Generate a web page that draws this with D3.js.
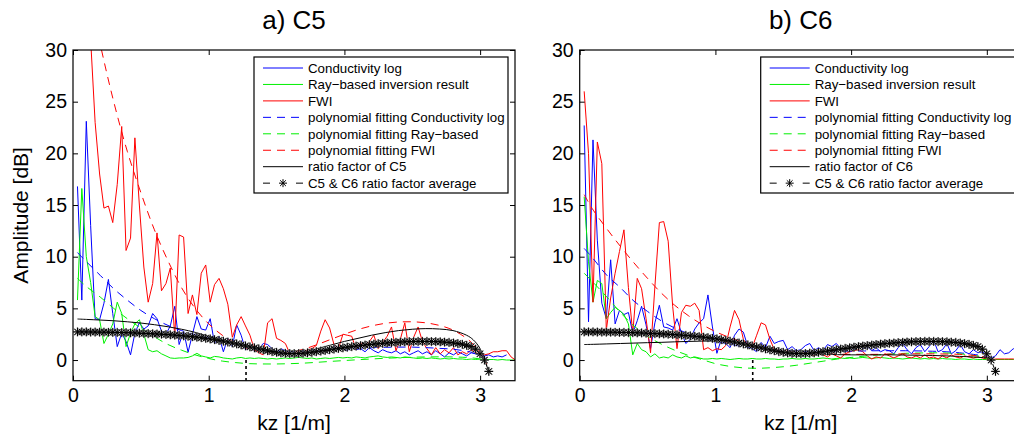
<!DOCTYPE html>
<html><head><meta charset="utf-8">
<script src="https://cdn.jsdelivr.net/npm/d3@7"></script>
<style>body{margin:0;background:#fff;} svg{display:block;font-family:"Liberation Sans",Arial,Helvetica,sans-serif;}</style>
</head><body><svg id="c" width="1014" height="439"></svg>
<script>
// ---------- data ----------
const kz = [0.033,0.065,0.098,0.130,0.163,0.196,0.228,0.261,0.293,0.326,
0.359,0.391,0.424,0.456,0.489,0.522,0.554,0.587,0.619,0.652,
0.685,0.717,0.750,0.782,0.815,0.848,0.880,0.913,0.945,0.978,
1.011,1.043,1.076,1.108,1.141,1.174,1.206,1.239,1.271,1.304,
1.337,1.369,1.402,1.434,1.467,1.500,1.532,1.565,1.597,1.630,
1.663,1.695,1.728,1.760,1.793,1.826,1.858,1.891,1.923,1.956,
1.989,2.021,2.054,2.086,2.119,2.152,2.184,2.217,2.249,2.282,
2.315,2.347,2.380,2.412,2.445,2.478,2.510,2.543,2.575,2.608,
2.641,2.673,2.706,2.738,2.771,2.804,2.836,2.869,2.901,2.934,
2.967,2.999,3.032,3.064,3.097,3.130,3.162,3.195,3.228,3.260];

const condC5 = [16.8,5.8,23.1,13.0,4.0,3.9,5.5,7.8,4.5,1.3,
2.6,1.8,0.5,2.6,3.6,3.0,3.3,4.5,4.0,2.8,
2.5,3.3,5.2,1.5,2.8,0.75,2.5,4.2,3.0,2.9,
4.0,1.6,2.3,0.8,2.1,1.3,3.4,2.4,1.0,1.3,
0.9,1.1,1.6,1.5,1.1,0.65,1.1,0.9,0.6,0.8,
0.7,0.9,0.7,1.0,0.95,0.8,1.1,0.9,1.3,1.1,
1.2,0.9,1.25,1.0,1.1,0.8,1.2,0.9,0.7,1.0,
0.8,0.7,0.9,0.6,0.8,0.5,0.7,0.9,0.6,0.8,
0.5,0.9,0.6,0.3,0.7,0.5,0.8,0.6,0.4,0.7,
0.6,0.5,0.4,0.5,0.3,0.4,0.3,0.5];

const rayC5 = [5.8,16.6,10.0,7.5,4.2,3.9,1.6,2.5,3.5,5.6,
4.5,1.3,2.6,3.5,3.9,2.5,1.0,0.8,0.9,0.6,
0.4,0.2,0.16,0.2,0.2,0.25,0.4,0.65,0.4,0.3,
0.2,0.35,0.3,0.2,0.15,0.1,0.2,0.25,0.15,0.2,
0.15,0.2,0.15,0.1,0.15,0.1,0.15,0.2,0.15,0.2,
0.25,0.2,0.15,0.2,0.1,0.15,0.2,0.15,0.2,0.25,
0.2,0.25,0.2,0.3,0.25,0.2,0.3,0.35,0.4,0.3,
0.25,0.3,0.25,0.2,0.3,0.25,0.2,0.15,0.2,0.15,
0.2,0.15,0.1,0.15,0.1,0.15,0.1,0.1,0.05,0.1,
0.05,0.1,0.05,0.05,0.05,0.0,0.05,0.0,0.0,0.0];

const fwiC5 = [60,45,36,31,23,18,14.7,14.9,13.3,17,
22.6,10.6,11.8,21.5,15,9.0,5.6,7.4,12.3,6.7,
7.4,8.9,2.2,12.1,11.9,4.5,6.3,4.4,8.4,9.2,
5.6,7.3,7.9,6.9,5.4,2.2,3.4,4.2,3.3,2.4,
1.0,0.7,0.5,3.6,4.0,2.1,1.9,1.6,0.65,0.5,
0.9,0.7,1.0,1.1,1.4,2.8,3.9,3.1,1.5,1.1,
2.5,2.4,2.3,1.0,1.7,1.3,1.8,2.4,1.1,1.7,
2.3,3.2,0.9,2.0,3.6,0.8,2.2,3.2,1.8,1.1,
0.5,1.2,0.6,1.0,0.7,1.2,0.5,0.8,0.6,1.0,
0.7,0.6,0.5,0.6,0.8,0.8,0.9,0.9,0.3,0.0];

const condC6 = [22.7,3.7,21.3,11.6,5.5,4.0,9.7,3.5,4.8,4.4,
4.6,2.6,3.8,5.2,3.4,1.1,3.6,5.3,3.2,3.1,
2.9,4.0,2.6,1.6,2.0,3.0,3.6,4.0,6.3,3.2,
0.65,2.0,1.6,1.2,2.4,3.0,2.7,1.3,1.1,0.8,
1.7,1.2,2.3,1.6,1.8,1.9,1.0,1.3,0.9,1.0,
1.4,1.6,0.9,1.2,0.9,1.5,1.3,1.6,1.1,0.9,
1.3,1.0,1.5,1.1,1.3,0.9,1.2,0.8,1.0,0.9,
0.6,1.2,1.6,1.0,0.6,1.2,1.5,0.8,1.3,1.9,
0.8,1.0,1.6,0.6,0.9,1.5,0.8,0.6,1.0,0.7,
0.8,0.5,0.2,0.4,1.0,0.6,0.7,1.1,0.8,0.5];

const rayC6 = [15.8,9.5,5.6,7.7,7.4,4.0,4.6,5.1,4.8,4.4,
3.5,0.5,1.6,1.0,0.8,0.3,0.6,0.2,0.3,0.2,
0.5,0.3,0.2,0.4,0.2,0.3,0.2,0.1,0.1,0.15,
0.1,0.15,0.1,0.05,0.1,0.15,0.1,0.1,0.15,0.1,
0.1,0.15,0.1,0.1,0.05,0.1,0.1,0.15,0.1,0.1,
0.15,0.1,0.1,0.15,0.2,0.15,0.1,0.15,0.2,0.15,
0.2,0.15,0.2,0.25,0.2,0.15,0.2,0.25,0.2,0.15,
0.2,0.15,0.1,0.15,0.2,0.15,0.1,0.15,0.1,0.15,
0.1,0.15,0.1,0.1,0.05,0.1,0.1,0.05,0.1,0.05,
0.05,0.05,0.0,0.05,0.05,0.05,0.05,0.05,0.05,0.05];

const fwiC6 = [26.0,20.0,5.6,21.1,19.0,2.9,6.0,8.4,10.5,12.6,
7.0,2.6,7.9,6.9,4.0,0.7,7.1,13.3,13.4,11.5,
5.2,1.1,4.6,5.3,5.2,5.5,4.8,1.0,1.2,0.9,
1.1,1.0,1.4,3.2,4.8,3.9,2.0,1.3,1.2,2.4,
3.6,3.4,2.0,1.0,0.7,0.65,0.9,0.6,0.8,0.5,
0.9,0.6,0.4,0.7,0.5,0.3,0.6,0.4,0.2,0.6,
0.8,0.9,1.0,0.8,0.4,0.1,0.3,0.2,0.6,0.4,
0.2,0.4,0.6,0.3,0.2,0.4,0.2,0.5,0.2,0.3,
0.1,0.4,0.2,0.5,0.3,0.2,0.4,0.3,0.2,0.3,
0.2,0.1,0.0,0.1,0.1,0.1,0.1,0.1,0.1,0.1];

const fitKz = [0.033,0.1,0.2,0.3,0.4,0.5,0.6,0.7,0.8,0.9,1.0,1.1,1.2,1.3,1.4,1.5,1.6,1.7,1.8,1.9,2.0,2.1,2.2,2.3,2.4,2.5,2.6,2.7,2.8,2.9,2.95,3.0,3.05];
const fitCondC5 = [10.4,9.5,8.2,6.9,5.8,4.8,4.0,3.35,2.85,2.45,2.15,1.85,1.55,1.25,1.0,0.85,0.8,0.82,0.9,1.0,1.08,1.15,1.2,1.23,1.25,1.25,1.2,1.13,1.05,0.85,0.7,0.45,0.1];
const fitRayC5 = [7.9,7.1,6.1,5.0,4.0,3.1,2.25,1.5,0.95,0.5,0.15,-0.1,-0.25,-0.35,-0.38,-0.38,-0.35,-0.3,-0.22,-0.13,-0.05,0.03,0.1,0.17,0.22,0.27,0.3,0.31,0.3,0.25,0.2,0.1,0.0];
const fitFwiC5 = [42,37,30.6,25,20.2,16.2,12.6,9.6,7.0,5.0,3.5,2.4,1.6,1.05,0.75,0.65,0.75,1.05,1.5,2.0,2.5,2.95,3.3,3.55,3.68,3.7,3.6,3.35,2.9,2.1,1.5,0.7,-0.4];
const fitCondC6 = [10.8,9.8,8.2,7.0,5.7,4.7,3.8,3.1,2.55,2.1,1.8,1.55,1.3,1.15,1.0,0.92,0.85,0.82,0.8,0.82,0.85,0.88,0.9,0.9,0.9,0.88,0.85,0.8,0.7,0.55,0.45,0.3,0.05];
const fitRayC6 = [8.4,7.5,6.1,4.6,3.3,2.3,1.55,0.95,0.45,0.05,-0.35,-0.6,-0.75,-0.8,-0.75,-0.65,-0.5,-0.3,-0.1,0.1,0.25,0.38,0.5,0.58,0.65,0.68,0.7,0.68,0.6,0.45,0.35,0.15,0.0];
const fitFwiC6 = [16.0,14.5,12.7,11.0,9.4,7.9,6.5,5.3,4.3,3.45,2.75,2.2,1.75,1.4,1.1,0.9,0.75,0.65,0.6,0.57,0.55,0.55,0.55,0.58,0.6,0.6,0.6,0.58,0.55,0.45,0.38,0.25,0.05];
const ratioC5 = [3.97,3.93,3.87,3.8,3.7,3.58,3.42,3.22,2.98,2.68,2.3,1.95,1.55,1.15,0.8,0.6,0.58,0.75,1.1,1.45,1.8,2.1,2.4,2.65,2.85,2.98,3.04,3.0,2.85,2.4,1.95,1.1,-0.6];
const ratioC6 = [1.5,1.52,1.56,1.6,1.64,1.68,1.71,1.76,1.8,1.83,1.84,1.78,1.55,1.25,1.0,0.82,0.7,0.62,0.56,0.52,0.5,0.5,0.5,0.5,0.48,0.46,0.44,0.4,0.35,0.3,0.25,0.2,0.0];

const ratioAvg = [2.72,2.72,2.72,2.71,2.71,2.7,2.7,2.69,2.68,2.67,
2.66,2.65,2.63,2.62,2.6,2.58,2.56,2.54,2.52,2.5,
2.47,2.44,2.41,2.38,2.34,2.3,2.26,2.21,2.16,2.1,
2.04,1.97,1.9,1.82,1.74,1.65,1.56,1.46,1.37,1.27,
1.18,1.08,0.99,0.9,0.82,0.75,0.69,0.65,0.63,0.62,
0.63,0.66,0.7,0.75,0.81,0.87,0.93,1.0,1.06,1.12,
1.18,1.24,1.3,1.35,1.4,1.45,1.5,1.54,1.58,1.62,
1.65,1.68,1.71,1.74,1.76,1.78,1.79,1.8,1.8,1.8,
1.79,1.78,1.76,1.73,1.7,1.65,1.59,1.52,1.42,1.3,
1.05,0.6,0.0,-1.1];

const cutKz = 1.275;
const xDomain = [0, 3.257];
const yDomain = [-2, 30];
const xTicks = [0, 1, 2, 3];
const yTicks = [0, 5, 10, 15, 20, 25, 30];
const titles = ["a) C5", "b) C6"];
const xLabel = "kz [1/m]";
const yLabel = "Amplitude [dB]";
const legendC5 = ["Conductivity log","Ray\u2212based inversion result","FWI","polynomial fitting Conductivity log","polynomial fitting Ray\u2212based","polynomial fitting FWI","ratio factor of C5","C5 & C6 ratio factor average"];
const legendC6 = ["Conductivity log","Ray\u2212based inversion result","FWI","polynomial fitting Conductivity log","polynomial fitting Ray\u2212based","polynomial fitting FWI","ratio factor of C6","C5 & C6 ratio factor average"];

// ---------- drawing ----------
const svg = d3.select("#c");
const defs = svg.append("defs");
const W = 442, H = 330.7, TOP = 50;
const BLUE = "#0000ff", GREEN = "#00f000", RED = "#ff0000";
const DASH = "8,6";

function asteriskPath(s) {
  const a = s * 0.72;
  return `M${-s},0H${s}M0,${-s}V${s}M${-a},${-a}L${a},${a}M${-a},${a}L${a},${-a}`;
}

function panel(left, idx, d) {
  const g = svg.append("g").attr("transform", `translate(${left},${TOP})`);
  const x = d3.scaleLinear().domain(xDomain).range([0, W]);
  const y = d3.scaleLinear().domain(yDomain).range([H, 0]);
  const cid = "clip" + idx;
  defs.append("clipPath").attr("id", cid).append("rect").attr("width", W).attr("height", H);
  const plot = g.append("g").attr("clip-path", `url(#${cid})`);

  const rawLine = d3.line().x((v, i) => x(kz[i])).y(v => y(v));
  const fitLine = d3.line().x((v, i) => x(fitKz[i])).y(v => y(v)).curve(d3.curveCatmullRom.alpha(0.5));

  // divider
  plot.append("line").attr("x1", x(cutKz)).attr("x2", x(cutKz)).attr("y1", y(0)).attr("y2", y(-2))
    .attr("stroke", "#000").attr("stroke-width", 1.6).attr("stroke-dasharray", "3,3");

  const raw = [[d.cond, BLUE], [d.ray, GREEN], [d.fwi, RED]];
  raw.forEach(([arr, c]) => plot.append("path").attr("d", rawLine(arr)).attr("fill", "none")
    .attr("stroke", c).attr("stroke-width", 1).attr("stroke-linejoin", "round"));
  const fits = [[d.fCond, BLUE], [d.fRay, GREEN], [d.fFwi, RED]];
  fits.forEach(([arr, c]) => plot.append("path").attr("d", fitLine(arr)).attr("fill", "none")
    .attr("stroke", c).attr("stroke-width", 1).attr("stroke-dasharray", DASH));
  plot.append("path").attr("d", fitLine(d.ratio)).attr("fill", "none").attr("stroke", "#000").attr("stroke-width", 1);

  plot.append("path").attr("d", rawLine(ratioAvg)).attr("fill", "none").attr("stroke", "#000")
    .attr("stroke-width", 1).attr("stroke-dasharray", DASH);
  plot.selectAll("path.halo").data(ratioAvg).enter().append("path").attr("class", "halo")
    .attr("transform", (v, i) => `translate(${x(kz[i])},${y(v)})`)
    .attr("d", asteriskPath(4.6)).attr("fill", "none").attr("stroke", "#888").attr("stroke-width", 1.3);
  plot.selectAll("path.star").data(ratioAvg).enter().append("path").attr("class", "star")
    .attr("transform", (v, i) => `translate(${x(kz[i])},${y(v)})`)
    .attr("d", asteriskPath(4.2)).attr("fill", "none").attr("stroke", "#000").attr("stroke-width", 1);

  // axes
  const fs = "19.5px";
  g.append("g").attr("transform", `translate(0,${H})`)
    .call(d3.axisBottom(x).tickValues(xTicks).tickSize(-5).tickPadding(7).tickFormat(d3.format("d")));
  g.append("g").call(d3.axisTop(x).tickValues(xTicks).tickSize(-5).tickFormat(""));
  g.append("g").call(d3.axisLeft(y).tickValues(yTicks).tickSize(-5).tickPadding(6).tickFormat(d3.format("d")));
  g.append("g").attr("transform", `translate(${W},0)`).call(d3.axisRight(y).tickValues(yTicks).tickSize(-5).tickFormat(""));
  g.selectAll(".domain").remove();
  g.selectAll(".tick line").attr("stroke", "#000").attr("stroke-width", 1);
  g.selectAll(".tick text").attr("font-size", fs).attr("font-family", "Liberation Sans, Arial, sans-serif").attr("fill", "#000");
  g.append("rect").attr("width", W).attr("height", H).attr("fill", "none").attr("stroke", "#000").attr("stroke-width", 1.2);

  // title & labels
  svg.append("text").attr("x", left + W / 2).attr("y", 29).attr("text-anchor", "middle")
    .attr("font-size", "26px").text(titles[idx]);
  svg.append("text").attr("x", left + W / 2).attr("y", 430).attr("text-anchor", "middle")
    .attr("font-size", "21px").text(xLabel);
  if (idx === 0) {
    svg.append("text").attr("transform", `translate(28,${TOP + H / 2}) rotate(-90)`).attr("text-anchor", "middle")
      .attr("font-size", "21px").text(yLabel);
  }

  // legend
  const lg = g.append("g").attr("transform", "translate(181,7)");
  lg.append("rect").attr("width", 254).attr("height", 136).attr("fill", "#fff").attr("stroke", "#000").attr("stroke-width", 1.2);
  const styles = [[BLUE, null], [GREEN, null], [RED, null], [BLUE, DASH], [GREEN, DASH], [RED, DASH], ["#000", null], ["#000", "7,26"]];
  d.legend.forEach((lab, i) => {
    const cy = 11 + i * 16.45;
    const ln = lg.append("line").attr("x1", 9).attr("x2", 49).attr("y1", cy).attr("y2", cy)
      .attr("stroke", styles[i][0]).attr("stroke-width", 1);
    if (styles[i][1]) ln.attr("stroke-dasharray", styles[i][1]);
    if (i === 7) lg.append("path").attr("transform", `translate(29,${cy})`).attr("d", asteriskPath(4))
      .attr("fill", "none").attr("stroke", "#000").attr("stroke-width", 1);
    lg.append("text").attr("x", 54).attr("y", cy + 4.7).attr("font-size", "13.3px").text(lab);
  });
}

panel(73, 0, {cond: condC5, ray: rayC5, fwi: fwiC5, fCond: fitCondC5, fRay: fitRayC5, fFwi: fitFwiC5, ratio: ratioC5, legend: legendC5});
panel(579.7, 1, {cond: condC6, ray: rayC6, fwi: fwiC6, fCond: fitCondC6, fRay: fitRayC6, fFwi: fitFwiC6, ratio: ratioC6, legend: legendC6});
</script>
</body></html>
